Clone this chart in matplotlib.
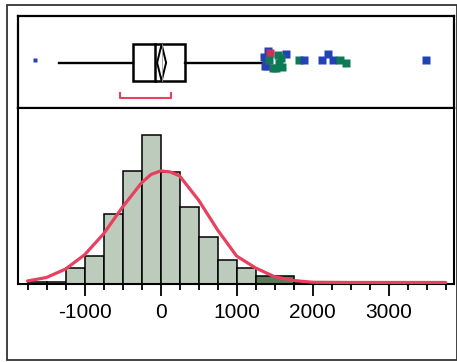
import matplotlib
matplotlib.use("Agg")
import matplotlib.pyplot as plt
from matplotlib.patches import Rectangle, Polygon
from matplotlib.ticker import MultipleLocator

plt.rcParams['font.family'] = ['Liberation Sans', 'DejaVu Sans']

# ---------------- data ----------------
# histogram (bin edges every 250)
bin_left = [-1750, -1500, -1250, -1000, -750, -500, -250, 0, 250, 500, 750, 1000]
bin_counts = [0.7, 1, 7, 12, 30, 48.5, 64, 48, 33, 20, 10.5, 7]
# highlighted (selected) bars: left edge, width, height
sel_left = [1250]
sel_width = [500]
sel_counts = [3.5]
# sparse tail bars: left edge, width, height
tail_left = [1750, 3500]
tail_width = [750, 250]
tail_counts = [0.7, 0.5]

# fitted normal curve
curve_x = [-1750, -1500, -1250, -1000, -750, -500, -250, -125, 0, 125, 250,
           500, 750, 1000, 1250, 1500, 1750, 2000, 2500, 3000, 3500, 3750]
curve_y = [1.3, 2.8, 6.4, 12.5, 21.5, 33, 43.4, 47, 48.5, 48.1, 46.4,
           36, 23.2, 12, 6.9, 3.1, 1.5, 0.75, 0.65, 0.65, 0.65, 0.65]

# box plot summary
whisker_low, q1, median, q3, whisker_high = -1330, -367, -68, 328, 1339
mean_val, mean_ci_low, mean_ci_high = 14, -45, 73
shortest_half = (-530, 144)

# outliers
outlier_x = [-1653, 1367, 1382, 1413, 1439, 1541, 1650, 1400, 1475, 1558,
             1815, 1893, 2118, 2206, 2272, 2358, 2437, 3488,
             1372, 1430, 1520, 1580, 1600]
outlier_jitter = [44, 41, 47, 35, 36.5, 39.3, 37.7, 49.5, 52, 46.8,
                  44.3, 44.3, 44.3, 38, 44.3, 43.7, 46.7, 44,
                  50, 44, 51.5, 42, 50.5]
outlier_color = ['b', 'b', 'b', 'b', 'r', 'g', 'b', 'r', 'g', 'g',
                 'g', 'b', 'b', 'b', 'b', 'g', 'g', 'b',
                 'b', 'g', 'g', 'g', 'g']
outlier_size = [3.0] + [5.4] * 22

xticks_major = [-1000, 0, 1000, 2000, 3000]

# ---------------- styles ----------------
W, H = 457, 362
BLUE, GREEN, RED = '#2342B4', '#0B7A55', '#D22E5C'
cmap = {'b': BLUE, 'g': GREEN, 'r': RED}
CURVE = '#E8405F'
LIGHT = '#BCCBBC'
DARK = '#5B7B5B'
xlim = (-1875, 3860)

fig = plt.figure(figsize=(W / 100, H / 100), dpi=100)

def fx(px):
    return px / W

def fy(py):
    return 1 - py / H

left_px, right_px = 18, 454
ax_box = fig.add_axes([fx(left_px), fy(108), fx(right_px - left_px), (108 - 16) / H])
ax_h = fig.add_axes([fx(left_px), fy(284), fx(right_px - left_px), (284 - 108) / H])

# outer frame
fig.add_artist(Rectangle((fx(6.5), fy(359.5)), fx(456.5 - 6.5), (359.5 - 4.5) / H,
                         transform=fig.transFigure, fill=False, ec='#333333', lw=1.3))

# ---------- histogram ----------
ax_h.bar(bin_left, bin_counts, width=250, align='edge', color=LIGHT,
         edgecolor='black', linewidth=1.1)
ax_h.bar(sel_left, sel_counts, width=sel_width, align='edge', color=DARK,
         edgecolor='black', linewidth=1.1)
ax_h.bar(tail_left, tail_counts, width=tail_width, align='edge', color='#A0A0A0',
         edgecolor='black', linewidth=1.1)
ax_h.plot(curve_x, curve_y, color=CURVE, lw=2.3, solid_joinstyle='round',
          solid_capstyle='round', zorder=5)
ax_h.set_xlim(*xlim)
ax_h.set_ylim(0, 75.5)
ax_h.set_yticks([])
ax_h.set_xticks(xticks_major)
ax_h.set_xticklabels([str(v) for v in xticks_major], fontsize=15)
ax_h.xaxis.set_minor_locator(MultipleLocator(250))
ax_h.tick_params(axis='x', which='major', direction='out', length=8.8, width=1.3,
                 pad=5)
ax_h.tick_params(axis='x', which='minor', direction='out', length=4.4, width=1.3)
for s in ax_h.spines.values():
    s.set_linewidth(1.5)

# ---------- box plot ----------
ax_box.set_xlim(*xlim)
ax_box.set_ylim(92, 0)
ax_box.set_xticks([])
ax_box.set_yticks([])
for s in ax_box.spines.values():
    s.set_linewidth(1.6)

yc = 46.7
ytop, ybot = 28.3, 65
ax_box.plot([whisker_low, q1], [yc, yc], color='black', lw=1.7)
ax_box.plot([q3, whisker_high], [yc, yc], color='black', lw=1.7)
ax_box.add_patch(Rectangle((q1, ytop), q3 - q1, ybot - ytop, fill=False,
                           ec='black', lw=1.8))
ax_box.plot([median, median], [ytop, ybot], color='black', lw=1.8)
ax_box.plot([mean_val, mean_val], [ytop, ybot], color='#999999', lw=0.6)
ax_box.add_patch(Polygon([[mean_ci_low, yc], [mean_val, ytop], [mean_ci_high, yc],
                          [mean_val, ybot]], closed=True, fill=False,
                         ec='black', lw=1.4))
# shortest half bracket
ax_box.plot([shortest_half[0], shortest_half[0], shortest_half[1], shortest_half[1]],
            [76.7, 82.3, 82.3, 76.7], color=CURVE, lw=1.5)

for xv, yv, c, sz in zip(outlier_x, outlier_jitter, outlier_color, outlier_size):
    ax_box.plot(xv, yv, marker='s', ms=sz, color=cmap[c], mec='none', ls='none')

fig.savefig('out.png', dpi=100)
